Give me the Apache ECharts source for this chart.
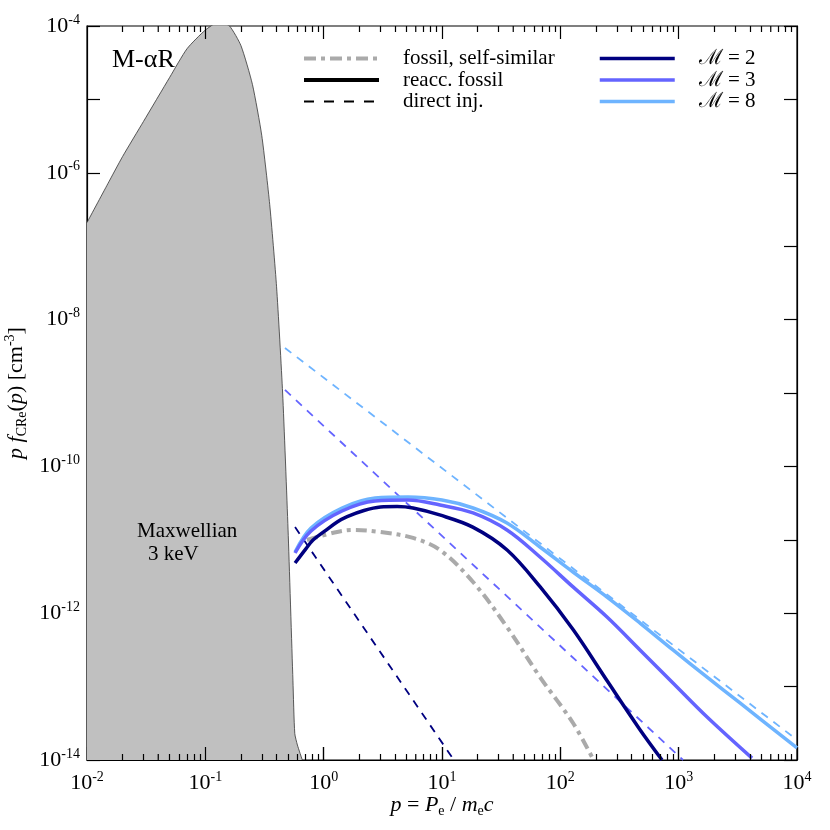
<!DOCTYPE html>
<html>
<head>
<meta charset="utf-8">
<script src="https://cdn.jsdelivr.net/npm/echarts@6/dist/echarts.min.js"></script>
<style>
  html, body { margin: 0; background: #fff; }
  #chart { width: 830px; height: 830px; }
</style>
</head>
<body>
<div id="chart"></div>
<script>
// thermal pool, p f(p) in cm^-3
const maxwellP = [0.01, 0.015, 0.02, 0.03, 0.05, 0.07, 0.1, 0.13, 0.16, 0.2, 0.25, 0.3, 0.35, 0.4, 0.45, 0.5, 0.55, 0.57, 0.6, 0.66];
const maxwellF = [2.1e-7, 7.1e-7, 1.67e-6, 5.0e-6, 2.0e-5, 4.9e-5, 8.8e-5, 1.13e-4, 1.0e-4, 5.4e-5, 1.6e-5, 3.2e-6, 3.7e-7, 2.8e-8, 1.0e-9, 1.4e-11, 1.2e-13, 2.3e-14, 1.6e-14, 1.0e-14];

// fossil, self-similar
const fossilP = [0.723, 1.30, 1.77, 2.99, 5.69, 9.62, 18.3, 35.4, 67.3, 128, 185];
const fossilF = [9.93e-12, 1.28e-11, 1.36e-11, 1.28e-11, 1.06e-11, 7.26e-12, 2.66e-12, 6.49e-13, 1.35e-13, 3.19e-14, 1.1e-14];

// reaccelerated fossil, Mach 2 / 3 / 8
const reaccP2 = [0.573, 0.71, 0.813, 1.0, 1.3, 1.58, 2.19, 3.02, 4.17, 5.69, 9.55, 18.2, 35.5, 67.6, 129, 251, 468, 724];
const reaccF2 = [4.83e-12, 7.59e-12, 9.93e-12, 1.28e-11, 1.75e-11, 2.07e-11, 2.51e-11, 2.8e-11, 2.84e-11, 2.71e-11, 2.18e-11, 1.49e-11, 7.26e-12, 2.28e-12, 5.89e-13, 1.17e-13, 2.63e-14, 1.0e-14];
const reaccP3 = [0.573, 0.782, 1.43, 2.72, 5.16, 9.62, 18.3, 35.4, 67.3, 128, 248, 471, 895, 1738, 4169];
const reaccF3 = [6.61e-12, 1.32e-11, 2.47e-11, 3.38e-11, 3.48e-11, 2.98e-11, 2.32e-11, 1.36e-11, 5.83e-12, 2.28e-12, 8.87e-13, 3.16e-13, 1.12e-13, 3.85e-14, 1.06e-14];
const reaccP8 = [0.573, 0.782, 1.43, 2.72, 5.16, 10.0, 18.3, 35.4, 67.3, 128, 248, 471, 895, 1738, 3296, 10000];
const reaccF8 = [6.82e-12, 1.45e-11, 2.71e-11, 3.71e-11, 3.83e-11, 3.48e-11, 2.71e-11, 1.69e-11, 7.98e-12, 3.64e-12, 1.66e-12, 7.35e-13, 3.16e-13, 1.35e-13, 5.98e-14, 1.46e-14];

// direct injection (power laws, end points)
const injP2 = [0.573, 12.6];
const injF2 = [1.49e-11, 1.0e-14];
const injP3 = [0.471, 1089];
const injF3 = [1.1e-9, 1.0e-14];
const injP8 = [0.471, 10000];
const injF8 = [4.1e-9, 1.88e-14];

const xExp = [-2, -1, 0, 1, 2, 3, 4];
const yExp = [-14, -13, -12, -11, -10, -9, -8, -7, -6, -5, -4];

const C2 = "#000080", C3 = "#6464ff", C8 = "#6eb4ff", CG = "#aaaaaa";
const SERIF = '"Liberation Serif", "Times New Roman", serif';

// axes run in log10 space
const toXY = (ps, fs) => ps.map((p, i) => [Math.log10(p), Math.log10(fs[i])]);

const minorX = [];
for (let e = xExp[0]; e < xExp[xExp.length - 1]; e++) {
  for (let k = 2; k <= 9; k++) minorX.push(e + Math.log10(k));
}

// x tick segments on bottom and top edge (tick length given in decades of y)
const yLo = yExp[0], yHi = yExp[yExp.length - 1];
const MAJ = 0.177, MIN = 0.082;
const xTickSegs = [];
const addTick = (v, len) => {
  xTickSegs.push({ coords: [[v, yLo], [v + 1e-4, yLo + len]] });
  xTickSegs.push({ coords: [[v, yHi], [v + 1e-4, yHi - len]] });
};
xExp.slice(1, -1).forEach((v) => addTick(v, MAJ));
minorX.forEach((v) => addTick(v, MIN));

const expLabel = (v) => "{b|10}{s|" + Math.round(v) + "}";
const labelRich = {
  b: { fontSize: 22, fontFamily: SERIF, color: "#000", lineHeight: 26 },
  s: { fontSize: 14, fontFamily: SERIF, color: "#000", verticalAlign: "top", lineHeight: 14 },
};
const axisLineStyle = { color: "#000", width: 1.2 };
const tickStyle = { color: "#000", width: 1.2 };

const myChart = echarts.init(document.getElementById("chart"));

const lineBase = { type: "line", symbol: "none", smooth: 0.35, silent: true };

const option = {
  animation: false,
  backgroundColor: "#fff",
  grid: {
    left: 87, right: 33, top: 26, bottom: 70, containLabel: false, outerBoundsMode: "none",
    show: true, borderColor: "#000", borderWidth: 1.2, backgroundColor: "transparent",
  },
  xAxis: {
    type: "value", position: "bottom", min: xExp[0], max: xExp[xExp.length - 1], interval: 1,
    axisLine: { lineStyle: axisLineStyle },
    axisTick: { inside: true, length: 13, lineStyle: tickStyle },
    splitLine: { show: false },
    axisLabel: { margin: 10, formatter: expLabel, rich: labelRich },
    name: "{i|p} = {i|P}{sub|e} / {i|m}{sub|e}{i|c}",
    nameLocation: "middle", nameGap: 32, nameMoveOverlap: false,
    nameTextStyle: {
      rich: {
        i: { fontSize: 22, fontFamily: SERIF, fontStyle: "italic", color: "#000", lineHeight: 26 },
        sub: { fontSize: 14, fontFamily: SERIF, color: "#000", verticalAlign: "bottom", lineHeight: 14 },
      },
      fontSize: 22, fontFamily: SERIF, color: "#000",
    },
  },
  yAxis: [
    {
      type: "value", position: "left", min: yLo, max: yHi, interval: 1,
      axisLine: { onZero: false, lineStyle: axisLineStyle },
      axisTick: { inside: true, length: 13, lineStyle: tickStyle },
      splitLine: { show: false },
      axisLabel: {
        margin: 7,
        formatter: (v) => (Math.round(v) % 2 === 0 ? expLabel(v) : ""),
        rich: labelRich,
      },
      name: "{i|p f}{sub|CRe}{n|(}{i|p}{n|) [cm}{sup|-3}{n|]}",
      nameLocation: "middle", nameGap: 58, nameRotate: 90, nameMoveOverlap: false,
      nameTextStyle: {
        rich: {
          i: { fontSize: 22, fontFamily: SERIF, fontStyle: "italic", color: "#000", lineHeight: 26 },
          n: { fontSize: 22, fontFamily: SERIF, color: "#000", lineHeight: 26 },
          sub: { fontSize: 14, fontFamily: SERIF, color: "#000", verticalAlign: "bottom", lineHeight: 14 },
          sup: { fontSize: 14, fontFamily: SERIF, color: "#000", verticalAlign: "top", lineHeight: 14 },
        },
      },
    },
    {
      type: "value", position: "right", min: yLo, max: yHi, interval: 1,
      axisLine: { onZero: false, lineStyle: axisLineStyle },
      axisTick: { inside: true, length: 13, lineStyle: tickStyle },
      axisLabel: { show: false }, splitLine: { show: false },
    },
  ],
  legend: [
    {
      orient: "vertical", left: 302, top: 48, padding: 0, itemGap: 0.5,
      itemWidth: 75, itemHeight: 10, selectedMode: false,
      data: ["fossil, self-similar", "reacc. fossil", "direct inj."],
      lineStyle: { width: "inherit" },
      itemStyle: { opacity: 0 },
      textStyle: { fontSize: 21, fontFamily: SERIF, color: "#000", lineHeight: 21, padding: [0, 0, 0, 19] },
    },
    {
      orient: "vertical", left: 598, top: 48, padding: 0, itemGap: 0.5,
      itemWidth: 75, itemHeight: 10, selectedMode: false,
      data: ["ℳ = 2", "ℳ = 3", "ℳ = 8"],
      lineStyle: { width: "inherit" },
      itemStyle: { opacity: 0 },
      textStyle: { fontSize: 21, fontFamily: SERIF, color: "#000", lineHeight: 21, padding: [0, 0, 0, 19] },
    },
  ],
  graphic: [
    { type: "text", z: 100, left: 112, top: 47, style: { text: "M-αR", font: "26px " + SERIF, fill: "#000" } },
    { type: "text", z: 100, left: 137, top: 521, style: { text: "Maxwellian", font: "21px " + SERIF, fill: "#000" } },
    { type: "text", z: 100, left: 148, top: 544, style: { text: "3 keV", font: "21px " + SERIF, fill: "#000" } },
  ],
  series: [
    {
      ...lineBase, name: "Maxwellian", smooth: 0.2, z: 1,
      data: toXY(maxwellP, maxwellF),
      lineStyle: { color: "#333", width: 0.8 },
      areaStyle: { color: "#c0c0c0", opacity: 1, origin: "start" },
    },
    // legend-only style samples
    { ...lineBase, name: "fossil, self-similar", data: [], lineStyle: { color: CG, width: 4, type: [12, 5, 4, 5] } },
    { ...lineBase, name: "reacc. fossil", data: [], lineStyle: { color: "#000", width: 4 } },
    { ...lineBase, name: "direct inj.", data: [], lineStyle: { color: "#000", width: 2, type: [10, 10] } },

    { ...lineBase, name: "inj2", smooth: false, data: toXY(injP2, injF2), lineStyle: { color: C2, width: 1.8, type: [8, 7] } },
    { ...lineBase, name: "inj3", smooth: false, data: toXY(injP3, injF3), lineStyle: { color: C3, width: 1.8, type: [8, 7] } },
    { ...lineBase, name: "inj8", smooth: false, data: toXY(injP8, injF8), lineStyle: { color: C8, width: 1.8, type: [8, 7] } },

    { ...lineBase, name: "fossil", data: toXY(fossilP, fossilF), lineStyle: { color: CG, width: 4, type: [11, 5, 4, 5] } },

    { ...lineBase, name: "ℳ = 2", data: toXY(reaccP2, reaccF2), lineStyle: { color: C2, width: 3.5 }, z: 5 },
    { ...lineBase, name: "ℳ = 3", data: toXY(reaccP3, reaccF3), lineStyle: { color: C3, width: 3.5 }, z: 4 },
    { ...lineBase, name: "ℳ = 8", data: toXY(reaccP8, reaccF8), lineStyle: { color: C8, width: 3.5 }, z: 3 },

    {
      type: "lines", name: "xTicks", coordinateSystem: "cartesian2d", silent: true, z: 10,
      polyline: false, data: xTickSegs,
      lineStyle: { color: "#000", width: 1.2, opacity: 1, curveness: 0 },
    },
  ],
};

myChart.setOption(option);
</script>
</body>
</html>
